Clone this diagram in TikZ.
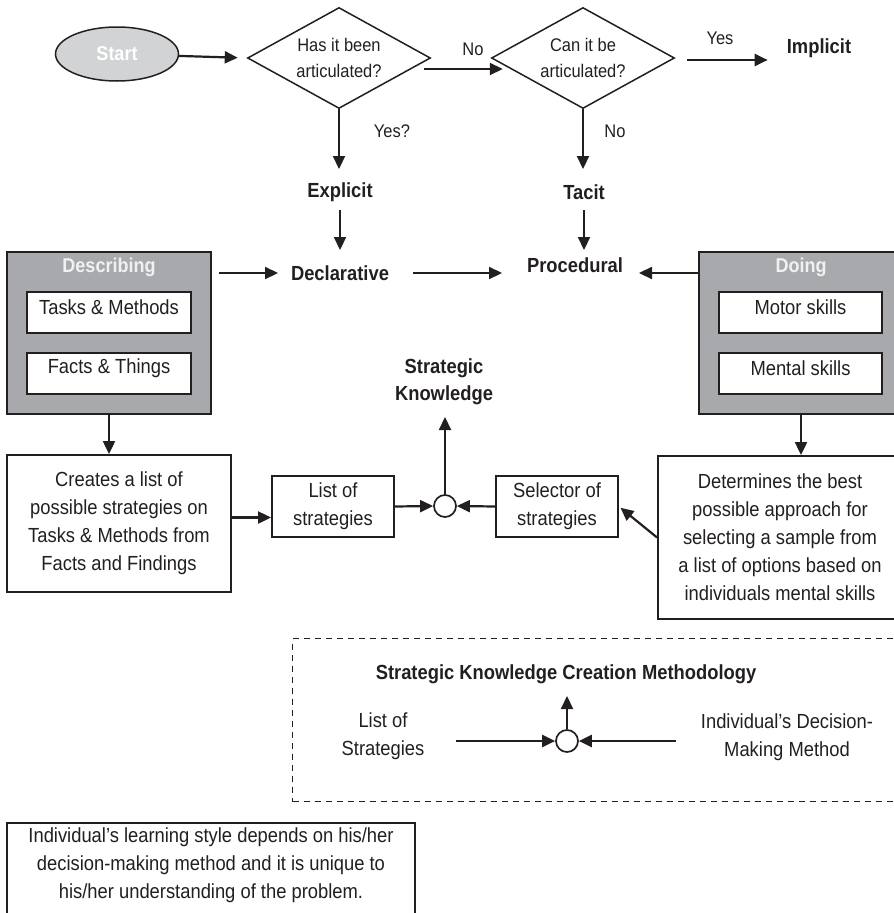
\documentclass[tikz,border=0pt]{standalone}
\usepackage{fontspec}
\setmainfont{Liberation Sans}[FakeStretch=0.9]
\usetikzlibrary{shapes.geometric,arrows.meta}
\definecolor{ink}{HTML}{231F20}
\definecolor{lightg}{HTML}{D1D3D4}
\definecolor{darkg}{HTML}{A7A9AC}
\definecolor{headw}{HTML}{F1F1F2}
\begin{document}
\begin{tikzpicture}[x=1pt,y=-1pt,
 every node/.style={text=ink},
 body/.style={font=\fontsize{20.4}{28}\selectfont, align=center, inner sep=0pt},
 small/.style={font=\fontsize{18.3}{26}\selectfont, align=center, inner sep=0pt},
 bold/.style={font=\fontsize{20.4}{27}\selectfont\bfseries, align=center, inner sep=0pt},
 head/.style={font=\fontsize{20}{24}\selectfont\bfseries, text=headw, inner sep=0pt},
 box/.style={draw=ink, line width=1.9pt, fill=white, inner sep=0pt},
 graybox/.style={draw=ink, line width=1.9pt, fill=darkg, inner sep=0pt},
 dia/.style={diamond, draw=ink, line width=1.5pt, minimum width=183pt, minimum height=101pt, inner sep=0pt},
 arr/.style={draw=ink, line width=2.2pt, -{Triangle[length=13pt,width=12pt]}},
 junct/.style={circle, draw=ink, line width=1.7pt, fill=white, minimum size=22pt, inner sep=0pt},
]
\useasboundingbox (0,0) rectangle (894,913);
\clip (0,0) rectangle (894,913);

% top row
\node[ellipse, draw=ink, line width=1.5pt, fill=lightg, minimum width=123pt, minimum height=54pt, inner sep=0pt, head, text=white] (start) at (117,54) {Start};
\node[dia, label={[small]center:Has it been\\articulated?}] (d1) at (339,58) {};
\node[dia, label={[small]center:Can it be\\articulated?}] (d2) at (583,58) {};
\node[small] (no1) at (473,49) {No};
\node[small] (yes1) at (720,38) {Yes};
\node[bold] (impl) at (819,48) {Implicit};
\node[small] (yesq) at (392,131) {Yes?};
\node[small] (no2) at (615,131) {No};
\node[bold] (expl) at (340,192) {Explicit};
\node[bold] (tacit) at (584,192) {Tacit};
\node[bold] (decl) at (340,273) {Declarative};
\node[bold] (proc) at (575,265) {Procedural};

% Describing
\node[graybox, minimum width=204pt, minimum height=162pt] (desc) at (109,333) {};
\node[head] (desct) at (109,267) {Describing};
\node[box, minimum width=164pt, minimum height=41pt] (tm) at (109,312.5) {};
\node[body] (tmt) at (109,307) {Tasks \& Methods};
\node[box, minimum width=164pt, minimum height=41pt] (ft) at (109,373.5) {};
\node[body] (ftt) at (109,368) {Facts \& Things};

% Doing
\node[graybox, minimum width=204pt, minimum height=162pt] (doing) at (801,333) {};
\node[head] (doingt) at (801,267) {Doing};
\node[box, minimum width=163pt, minimum height=41pt] (ms) at (800.5,312.5) {};
\node[body] (mst) at (800.5,307) {Motor skills};
\node[box, minimum width=163pt, minimum height=41pt] (mn) at (800.5,373.5) {};
\node[body] (mnt) at (800.5,368) {Mental skills};

% middle row
\node[box, minimum width=224pt, minimum height=137pt, body] (creates) at (119,523.5) {Creates a list of\\possible strategies on\\Tasks \& Methods from\\Facts and Findings};
\node[box, minimum width=122pt, minimum height=61pt, body] (list) at (333,506.5) {List of\\strategies};
\node[box, minimum width=122pt, minimum height=61pt, body] (sel) at (557,506.5) {Selector of\\strategies};
\node[junct] (c1) at (445,506) {};
\node[bold] (sk) at (444,382) {Strategic\\Knowledge};
\node[box, minimum width=244pt, minimum height=163pt, body] (det) at (780,537.5) {Determines the best\\possible approach for\\selecting a sample from\\a list of options based on\\individuals mental skills};

% dashed methodology box
\node[draw=ink, line width=1.3pt, dash pattern=on 6pt off 5pt, minimum width=620pt, minimum height=163pt, anchor=north west, inner sep=0pt] (dbox) at (292,638) {};
\node[bold] (skcm) at (566,674) {Strategic Knowledge Creation Methodology};
\node[junct] (c2) at (567,741) {};
\node[body] (los) at (383,736) {List of\\Strategies};
\node[body] (idm) at (787,737) {Individual’s Decision-\\Making Method};

% note
\node[box, minimum width=408pt, minimum height=130pt, anchor=north] (notebox) at (211,822) {};
\node[body] (note) at (211,865) {Individual’s learning style depends on his/her\\decision-making method and it is unique to\\his/her understanding of the problem.};

% connectors
\draw[arr, shorten >=9pt] (start) -- (d1.west);
\draw[arr] ([shift={(-7,11)}]d1.east) -- ([shift={(12,11)}]d2.west);
\draw[arr] ([shift={(12,2)}]d2.east) -- ([shift={(-19,12)}]impl.west);
\draw[arr, shorten >=23pt] (d1.south) -- (d1.south |- expl.center);
\draw[arr, shorten <=18pt, shorten >=23pt] (expl.center) -- (decl.center);
\draw[arr, shorten >=23pt] (d2.south) -- (d2.south |- tacit.center);
\draw[arr, shorten <=18pt, shorten >=15pt] (tacit.center) -- (tacit.center |- proc.center);
\draw[arr, shorten <=7pt, shorten >=62pt] (desc.east |- decl.center) -- (decl.center);
\draw[arr, shorten <=73pt, shorten >=73pt] (decl.center) -- (decl.center -| proc.center);
\draw[arr, shorten >=64pt] (doing.west |- decl.center) -- (decl.center -| proc.center);
\draw[arr] (desc.south) -- (desc.south |- creates.north);
\coordinate (cl) at ([shift={(0,-6)}]creates.east);
\draw[arr] (cl) -- (cl -| list.west);
\draw[arr] (list.east) -- (c1.west);
\draw[arr] (sel.west) -- (c1.east);
\draw[arr, shorten >=35pt] (c1.north) -- (c1.north |- sk.center);
\draw[arr] (doing.south) -- (doing.south |- det.north);
\draw[arr, shorten >=2pt] (det.west) -- (sel.east);
\draw[arr, shorten <=73pt] (los.center |- c2.center) -- (c2.west);
\draw[arr, shorten <=111pt] (idm.center |- c2.center) -- (c2.east);
\draw[arr, shorten >=22pt] (c2.north) -- (c2.north |- skcm.center);
\end{tikzpicture}
\end{document}
